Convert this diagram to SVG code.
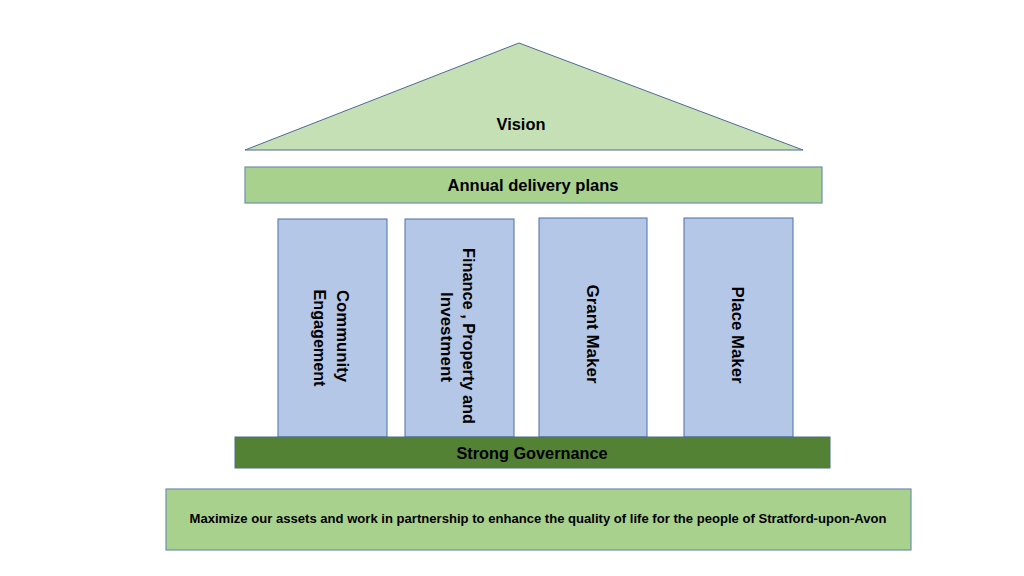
<svg xmlns="http://www.w3.org/2000/svg" width="1024" height="576" viewBox="0 0 1024 576">
<style>
.t{font-family:"Liberation Sans",Arial,sans-serif;font-weight:bold;fill:#000;text-anchor:middle;dominant-baseline:central}
.lg{fill:#a9d18e;stroke:#6f8fae;stroke-width:1.2}
.pl{fill:#b4c7e7;stroke:#4a6fa8;stroke-width:1}
</style>
<rect width="1024" height="576" fill="#fff"/>
<g id="vision">
<polygon points="519,43 803,150 245,150" fill="#c5e0b4" stroke="#4e6a98" stroke-width="1"/>
<text class="t" x="521" y="124" font-size="16" textLength="49" lengthAdjust="spacingAndGlyphs">Vision</text>
</g>
<g id="annual">
<rect class="lg" x="245" y="167" width="577" height="36"/>
<text class="t" x="533" y="185" font-size="16" textLength="171" lengthAdjust="spacingAndGlyphs">Annual delivery plans</text>
</g>
<g id="community">
<rect class="pl" x="278" y="219" width="109" height="218"/>
<text class="t" font-size="17" transform="translate(342,336) rotate(90)" textLength="92" lengthAdjust="spacingAndGlyphs">Community</text>
<text class="t" font-size="17" transform="translate(319,338) rotate(90)" textLength="97" lengthAdjust="spacingAndGlyphs">Engagement</text>
</g>
<g id="finance">
<rect class="pl" x="405" y="219" width="109" height="218"/>
<text class="t" font-size="17" transform="translate(468,336) rotate(90)" textLength="176" lengthAdjust="spacingAndGlyphs">Finance , Property and</text>
<text class="t" font-size="17" transform="translate(446,337) rotate(90)" textLength="90" lengthAdjust="spacingAndGlyphs">Investment</text>
</g>
<g id="grant">
<rect class="pl" x="539" y="218" width="108" height="219"/>
<text class="t" font-size="17" transform="translate(592,334) rotate(90)" textLength="99" lengthAdjust="spacingAndGlyphs">Grant Maker</text>
</g>
<g id="place">
<rect class="pl" x="684" y="218" width="109" height="219"/>
<text class="t" font-size="17" transform="translate(737,335) rotate(90)" textLength="97" lengthAdjust="spacingAndGlyphs">Place Maker</text>
</g>
<g id="governance">
<rect x="235" y="437" width="595" height="31" fill="#548235" stroke="#4a6f8a" stroke-width="1"/>
<text class="t" x="532" y="453" font-size="16" textLength="151" lengthAdjust="spacingAndGlyphs">Strong Governance</text>
</g>
<g id="mission">
<rect class="lg" x="166" y="489" width="745" height="61"/>
<text class="t" x="538" y="518" font-size="13" textLength="697" lengthAdjust="spacingAndGlyphs">Maximize our assets and work in partnership to enhance the quality of life for the people of Stratford-upon-Avon</text>
</g>
<g id="connectors"></g>
</svg>
